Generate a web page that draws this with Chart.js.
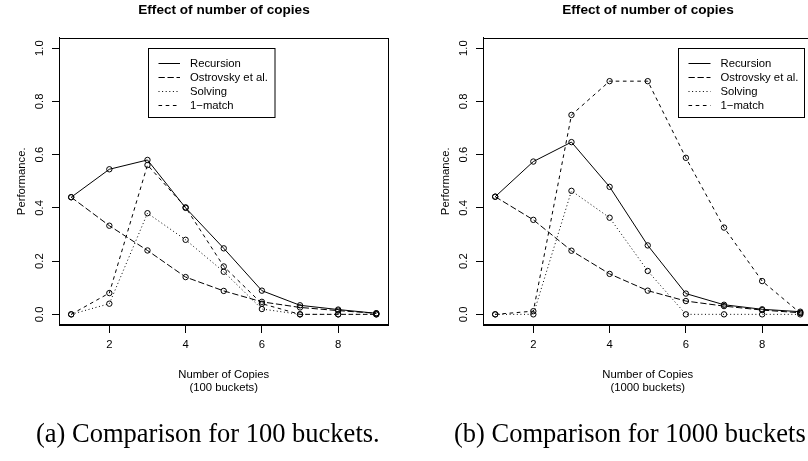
<!DOCTYPE html>
<html>
<head>
<meta charset="utf-8">
<script src="https://cdn.jsdelivr.net/npm/chart.js@4/dist/chart.umd.min.js"></script>
<style>
html,body{margin:0;padding:0;width:808px;height:461px;overflow:hidden;background:#fff;}
#wrap{position:relative;width:808px;height:461px;overflow:hidden;}
.cv{position:absolute;top:0;}
.ttl{position:absolute;top:1px;width:300px;line-height:18px;text-align:center;font-weight:bold;font-size:13.6px;font-family:"Liberation Sans",Arial,sans-serif;color:#000;}
.cap{position:absolute;top:418px;line-height:30px;text-align:left;font-size:26.5px;font-family:"Liberation Serif","Times New Roman",serif;color:#000;white-space:nowrap;}
</style>
</head>
<body>
<div id="wrap">
  <canvas id="c100" class="cv" width="404" height="461" style="left:0px"></canvas>
  <canvas id="c1000" class="cv" width="404" height="461" style="left:424px"></canvas>
  <div class="ttl" style="left:74px">Effect of number of copies</div>
  <div class="ttl" style="left:498px">Effect of number of copies</div>
  <div class="cap" style="left:36px">(a) Comparison for 100 buckets.</div>
  <div class="cap" style="left:454px">(b) Comparison for 1000 buckets</div>
</div>
<script>
// ---- data ----
const copies = [1, 2, 3, 4, 5, 6, 7, 8, 9];
const seriesNames = ["Recursion", "Ostrovsky et al.", "Solving", "1\u2212match"];

const recursion100 = [0.44, 0.545, 0.58, 0.40, 0.248, 0.089, 0.034, 0.018, 0.004];
const ostrovsky100 = [0.44, 0.333, 0.24, 0.14, 0.088, 0.047, 0.026, 0.014, 0.004];
const solving100   = [0.0, 0.04, 0.38, 0.28, 0.16, 0.02, 0.0, 0.0, 0.0];
const oneMatch100  = [0.0, 0.08, 0.561, 0.402, 0.18, 0.04, 0.0, 0.0, 0.0];

const recursion1000 = [0.442, 0.574, 0.647, 0.479, 0.259, 0.078, 0.036, 0.019, 0.010];
const ostrovsky1000 = [0.442, 0.355, 0.239, 0.152, 0.089, 0.050, 0.031, 0.016, 0.006];
const solving1000   = [0.0, 0.0, 0.464, 0.363, 0.163, 0.0, 0.0, 0.0, 0.0];
const oneMatch1000  = [0.0, 0.012, 0.749, 0.876, 0.876, 0.588, 0.326, 0.125, 0.005];

const xTicks = [2, 4, 6, 8];
const yTicks = [0.0, 0.2, 0.4, 0.6, 0.8, 1.0];
const xTitle100 = ["Number of Copies", "(100 buckets)"];
const xTitle1000 = ["Number of Copies", "(1000 buckets)"];
const yTitle = "Performance.";

// ---- styles ----
const dashes = [[], [6.3, 2.7], [1, 2.6], [3.6, 3.6]];
const SANS = '"Liberation Sans", Arial, sans-serif';
const BASE = 11.3;

function pts(vals) { return vals.map((v, i) => ({ x: copies[i], y: v })); }

function makeDatasets(list) {
  return list.map((vals, i) => ({
    label: seriesNames[i],
    data: pts(vals),
    borderColor: '#000',
    borderWidth: 1,
    borderDash: dashes[i],
    pointStyle: 'circle',
    pointRadius: 2.7,
    pointBorderWidth: 1,
    pointBorderColor: '#000',
    pointBackgroundColor: 'rgba(0,0,0,0)',
    fill: false,
    tension: 0
  }));
}

const boxPlugin = {
  id: 'rbox',
  afterDraw(chart) {
    const a = chart.chartArea, ctx = chart.ctx;
    ctx.save();
    ctx.strokeStyle = '#000';
    ctx.lineWidth = 1;
    ctx.setLineDash([]);
    const l = Math.round(a.left) + 0.5, t = Math.round(a.top) + 0.5;
    const r = Math.round(a.right) - 0.5, b = Math.round(a.bottom) - 0.5;
    ctx.strokeRect(l, t, r - l, b - t);
    ctx.restore();
  }
};

const legendPlugin = {
  id: 'rlegend',
  afterDatasetsDraw(chart, args, opts) {
    const a = chart.chartArea, ctx = chart.ctx;
    const x0 = Math.round(a.left + opts.dx) + 0.5, y0 = Math.round(a.top + opts.dy) + 0.5;
    const w = opts.w, h = opts.h;
    ctx.save();
    ctx.fillStyle = '#fff';
    ctx.fillRect(x0, y0, w, h);
    ctx.strokeStyle = '#000';
    ctx.lineWidth = 1;
    ctx.setLineDash([]);
    ctx.strokeRect(x0, y0, w, h);
    ctx.font = BASE + 'px ' + SANS;
    ctx.textBaseline = 'middle';
    ctx.textAlign = 'left';
    ctx.fillStyle = '#000';
    chart.data.datasets.forEach((ds, i) => {
      const yy = Math.round(y0 + opts.firstRow + i * opts.rowH) + 0.5;
      ctx.setLineDash(ds.borderDash || []);
      ctx.beginPath();
      ctx.moveTo(x0 + opts.lineX0, yy);
      ctx.lineTo(x0 + opts.lineX1, yy);
      ctx.stroke();
      ctx.setLineDash([]);
      ctx.fillText(ds.label, x0 + opts.textX, yy);
    });
    ctx.restore();
  }
};

function makeChart(id, list, xTitle, legendOpts) {
  return new Chart(document.getElementById(id), {
    type: 'line',
    data: { datasets: makeDatasets(list) },
    options: {
      responsive: false,
      animation: false,
      events: [],
      layout: { padding: { left: 0, right: 15.5, top: 37.5, bottom: 66.5 } },
      plugins: {
        legend: { display: false },
        tooltip: { enabled: false },
        title: { display: false },
        rlegend: legendOpts
      },
      scales: {
        x: {
          type: 'linear',
          min: 0.68, max: 9.32,
          afterBuildTicks(s) { s.ticks = xTicks.map(v => ({ value: v })); },
          afterFit(s) { s.height = 69.5; },
          grid: { drawOnChartArea: false, drawTicks: true, tickLength: 8, color: '#000', lineWidth: 1 },
          border: { display: true, color: '#000', width: 1 },
          ticks: { color: '#000', font: { family: SANS, size: BASE }, padding: 5, maxRotation: 0, minRotation: 0,
                   callback: v => String(v) },
          title: { display: true, text: xTitle, color: '#000', font: { family: SANS, size: BASE, lineHeight: 1.15 },
                   padding: { top: 0, bottom: 0 } }
        },
        y: {
          type: 'linear',
          min: -0.04, max: 1.04,
          afterBuildTicks(s) { s.ticks = yTicks.map(v => ({ value: v })); },
          afterFit(s) { s.width = 59; },
          grid: { drawOnChartArea: false, drawTicks: true, tickLength: 7, color: '#000', lineWidth: 1 },
          border: { display: true, color: '#000', width: 1 },
          ticks: { color: '#000', font: { family: SANS, size: BASE }, padding: 4, minRotation: 90, maxRotation: 90,
                   crossAlign: 'center', callback: v => Number(v).toFixed(1) },
          title: { display: true, text: yTitle, color: '#000', font: { family: SANS, size: BASE },
                   padding: { top: 15, bottom: 0 } }
        }
      }
    },
    plugins: [boxPlugin, legendPlugin]
  });
}

makeChart('c100', [recursion100, ostrovsky100, solving100, oneMatch100], xTitle100,
  { dx: 88.5, dy: 10.5, w: 126.5, h: 69, firstRow: 14.3, rowH: 14, lineX0: 10, lineX1: 31.5, textX: 41.5 });
makeChart('c1000', [recursion1000, ostrovsky1000, solving1000, oneMatch1000], xTitle1000,
  { dx: 194.5, dy: 10.5, w: 126, h: 69, firstRow: 14.3, rowH: 14, lineX0: 10, lineX1: 32, textX: 42 });
</script>
</body>
</html>
